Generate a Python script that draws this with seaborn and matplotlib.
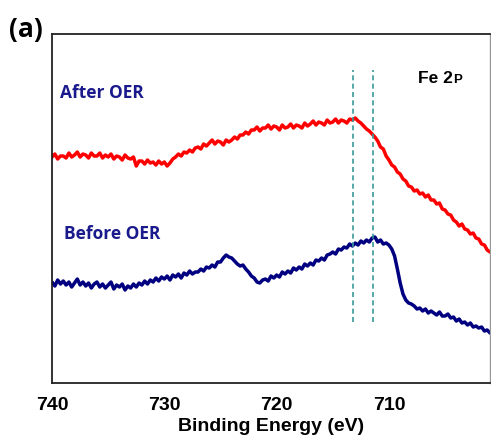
import numpy as np
import pandas as pd
import matplotlib
matplotlib.use("Agg")
import matplotlib.pyplot as plt
import seaborn as sns

# Binding-energy grid (eV), sampled every 0.25 eV from 740 down to 701
energy = np.arange(740.0, 700.99, -0.25)

# Fe 2p intensity after OER (arb. units, offset)
after_oer = [
    226, 229, 224, 227, 227, 225, 230, 226, 228, 231, 226, 229,
    228, 225, 230, 227, 227, 230, 225, 228, 226, 229, 224, 227,
    226, 223, 228, 225, 224, 226, 217, 222, 222, 219, 223, 220,
    221, 218, 222, 219, 221, 217, 220, 224, 226, 229, 227, 231,
    230, 233, 231, 235, 236, 234, 239, 237, 240, 243, 239, 242,
    241, 238, 243, 241, 243, 246, 244, 248, 248, 251, 249, 253,
    253, 256, 252, 255, 255, 258, 254, 257, 256, 253, 258, 255,
    256, 259, 255, 258, 257, 255, 260, 257, 259, 262, 258, 261,
    260, 258, 263, 260, 261, 264, 260, 263, 262, 260, 264, 263,
    265, 262, 260, 257, 254, 252, 249, 246, 242, 236, 234, 227,
    223, 218, 216, 211, 209, 204, 202, 197, 196, 192, 193, 189,
    190, 186, 188, 183, 183, 179, 180, 174, 173, 169, 168, 163,
    161, 157, 159, 154, 153, 149, 150, 145, 144, 139, 138, 133,
    131,
]

# Fe 2p intensity before OER (arb. units, offset)
before_oer = [
    101, 97, 103, 99, 102, 98, 101, 96, 100, 104, 98, 101,
    97, 100, 95, 99, 101, 96, 99, 95, 98, 101, 94, 98,
    96, 99, 93, 97, 95, 99, 96, 100, 98, 102, 99, 103,
    101, 105, 102, 106, 104, 107, 103, 108, 106, 109, 105, 110,
    108, 112, 109, 111, 111, 114, 112, 116, 115, 118, 116, 121,
    121, 125, 128, 126, 125, 122, 119, 117, 118, 114, 111, 107,
    105, 101, 100, 103, 104, 102, 107, 105, 108, 106, 111, 109,
    112, 110, 115, 113, 116, 114, 119, 117, 120, 118, 123, 122,
    125, 123, 128, 129, 131, 129, 134, 133, 136, 135, 139, 137,
    140, 138, 142, 140, 143, 141, 145, 146, 141, 143, 139, 140,
    138, 134, 127, 114, 100, 89, 83, 80, 79, 77, 74, 75,
    72, 74, 70, 72, 70, 68, 71, 67, 67, 69, 65, 66,
    62, 64, 60, 61, 58, 60, 56, 57, 55, 56, 52, 53,
    50,
]

# Peak-position markers (eV)
marker_positions = [713.2, 711.4]

df = pd.DataFrame({
    "energy": np.concatenate([energy, energy]),
    "intensity": after_oer + before_oer,
    "sample": ["After OER"] * len(after_oer) + ["Before OER"] * len(before_oer),
})

sns.set_style("white")
plt.rcParams["font.family"] = ["Liberation Sans", "DejaVu Sans"]

fig = plt.figure(figsize=(4.91, 4.40), dpi=100)
ax = fig.add_axes([0.106, 0.1295, 0.892, 0.7932])

sns.lineplot(data=df, x="energy", y="intensity", hue="sample",
             palette={"After OER": "#ff0000", "Before OER": "#000080"},
             linewidth=2.5, legend=False, ax=ax, sort=False)

ax.vlines(marker_positions, 61, 313, colors="#3a9a9a",
          linestyles=(0, (3, 2)), linewidth=1.2)

ax.set_xlim(740, 701)
ax.set_ylim(0, 349)
ax.set_xticks([740, 730, 720, 710])
ax.set_xticks([735, 725, 715, 705], minor=True)
ax.set_yticks([])
ax.tick_params(axis="x", which="major", direction="out", length=5, width=1.3,
               labelsize=14, pad=5, colors="#222222")
ax.tick_params(axis="x", which="minor", direction="out", length=3, width=1.3,
               colors="#222222")
for lbl in ax.get_xticklabels():
    lbl.set_fontweight("bold")
    lbl.set_color("#000000")
for side in ["left", "bottom", "top"]:
    ax.spines[side].set_linewidth(1.3)
    ax.spines[side].set_color("#222222")
ax.spines["right"].set_linewidth(1.0)
ax.spines["right"].set_color("#999999")

ax.set_xlabel("Binding Energy (eV)", fontsize=14, fontweight="bold",
              labelpad=3, color="#000000")
ax.set_ylabel("")

label_font = ["Open Sans", "DejaVu Sans"]
ax.text(739.3, 290, "After OER", color="#1a1a8c", fontsize=12.5,
        fontweight="bold", family=label_font, va="center", ha="left")
ax.text(738.9, 149, "Before OER", color="#1a1a8c", fontsize=12.5,
        fontweight="bold", family=label_font, va="center", ha="left")

t = ax.text(707.4, 305, "Fe 2", fontsize=12.5, fontweight="bold",
            va="center", ha="left", color="#000000")
fig.canvas.draw()
bb = t.get_window_extent()
x_end = ax.transData.inverted().transform((bb.x1, bb.y0))[0]
ax.text(x_end, 303, "P", fontsize=9.5, fontweight="bold",
        va="center", ha="left", color="#000000")

fig.text(0.018, 0.932, "(a)", fontsize=19, fontweight="bold",
         family=label_font, va="center", ha="left", color="#000000")

fig.savefig("out.png", dpi=100)
